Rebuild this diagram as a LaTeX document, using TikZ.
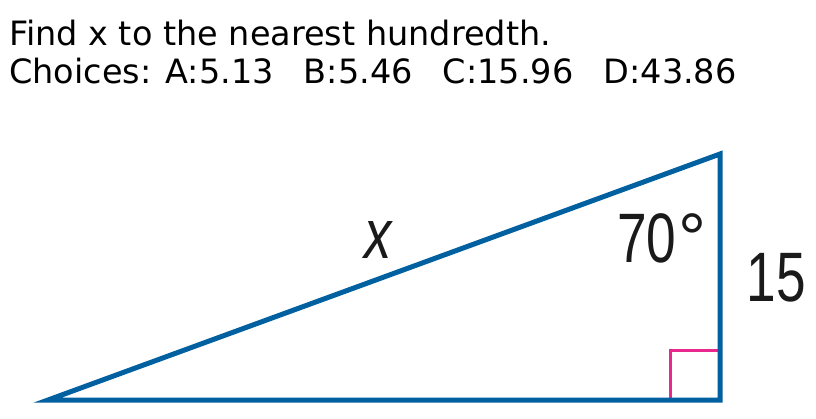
\documentclass[tikz,border=0pt]{standalone}
\usepackage{fontspec}
\setmainfont{DejaVu Sans}
\newfontfamily\labfont{Liberation Sans}
\definecolor{triblue}{RGB}{0,96,160}
\definecolor{rapink}{RGB}{232,40,140}
\definecolor{labblack}{RGB}{26,26,26}
\begin{document}
\begin{tikzpicture}[x=1pt,y=-1pt,
  side/.style={draw=triblue,line width=5pt,line join=miter},
  rmark/.style={draw=rapink,line width=3pt},
  lab/.style={text=labblack,inner sep=0pt,font=\labfont\fontsize{70}{70}\selectfont},
  header/.style={anchor=base west,inner sep=0pt,font=\fontsize{33.5}{40}\selectfont}]
\useasboundingbox (0,0) rectangle (816,419);
\node[header] (l1) at (9,46) {Find x to the nearest hundredth.};
\node[header] (l2) at (9,84) {Choices: A:5.13\hspace{0.9em}B:5.46\hspace{0.9em}C:15.96\hspace{0.9em}D:43.86};
\coordinate (A) at (48,400);
\coordinate (B) at (720,154);
\coordinate (C) at (720,400);
\coordinate (R1) at (670,400);
\coordinate (R2) at (670,350);
\coordinate (R3) at (720,350);
\draw[rmark] (R1) -- (R2) -- (R3);
\draw[side] (A) -- (B) -- (C) -- cycle;
\node[lab] (x) at (378,240) {\scalebox{0.78}[1]{\itshape x}};
\node[lab] (ang) at (662,238) {\scalebox{0.76}[1]{70}\hspace{0.03em}°};
\node[lab] (s) at (776,278) {\scalebox{0.76}[1]{15}};
\end{tikzpicture}
\end{document}
